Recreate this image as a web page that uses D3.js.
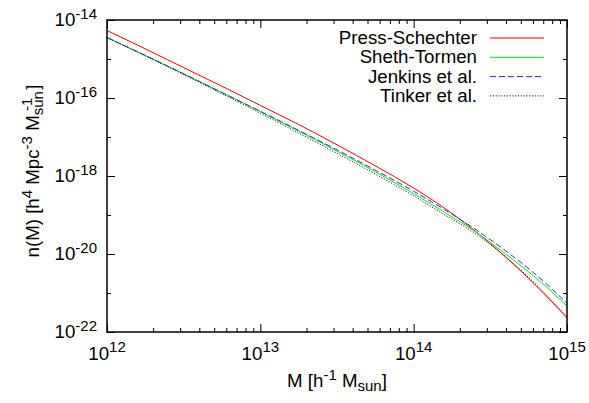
<!DOCTYPE html>
<html>
<head>
<meta charset="utf-8">
<script src="https://cdn.jsdelivr.net/npm/d3@7"></script>
<style>
  body { margin: 0; background: #fff; }
  svg { display: block; font-family: "Liberation Sans", Arial, sans-serif; }
</style>
</head>
<body>
<div id="chart"></div>
<script>
// mass function n(M) for four fits, values are log10
const logMass = [12, 12.25, 12.5, 12.75, 13, 13.25, 13.5, 13.75, 14, 14.2, 14.4, 14.6, 14.8, 15];
const pressSchechter = [-14.27, -14.74, -15.22, -15.70, -16.19, -16.68, -17.20, -17.74, -18.31, -18.82, -19.41, -20.08, -20.82, -21.64];
const shethTormen    = [-14.45, -14.91, -15.38, -15.86, -16.35, -16.85, -17.36, -17.89, -18.45, -18.93, -19.42, -20.00, -20.62, -21.33];
const jenkins        = [-14.45, -14.91, -15.38, -15.86, -16.34, -16.83, -17.33, -17.85, -18.39, -18.86, -19.36, -19.92, -20.54, -21.26];
const tinker         = [-14.45, -14.92, -15.40, -15.89, -16.39, -16.90, -17.42, -17.95, -18.51, -18.99, -19.47, -20.07, -20.79, -21.61];

const seriesNames = ["Press-Schechter", "Sheth-Tormen", "Jenkins et al.", "Tinker et al."];
const xTickExp = [12, 13, 14, 15];
const yTickExp = [-14, -16, -18, -20, -22];
const yMinorExp = [-15, -17, -19, -21];

const width = 589, height = 403;
const margin = { top: 20, right: 22, bottom: 71, left: 107 };

const svg = d3.select("#chart").append("svg")
  .attr("width", width).attr("height", height);

const x = d3.scaleLog().domain([1e12, 1e15]).range([margin.left, width - margin.right]);
const y = d3.scaleLog().domain([1e-22, 1e-14]).range([height - margin.bottom, margin.top]);

const xMajor = xTickExp.map(e => Math.pow(10, e));
const xMinor = [];
xTickExp.slice(0, -1).forEach(e => { for (let k = 2; k <= 9; k++) xMinor.push(k * Math.pow(10, e)); });
const yMajor = yTickExp.map(e => Math.pow(10, e));
const yMinor = yMinorExp.map(e => Math.pow(10, e));

// inward ticks on all four sides, long for major, short for minor
function ticks(axisFn, scale, values, size, transform) {
  svg.append("g")
    .attr("transform", transform)
    .call(axisFn(scale).tickValues(values).tickSize(-size).tickFormat(""))
    .call(g => g.select(".domain").remove())
    .call(g => g.selectAll("line").attr("stroke", "#000"));
}
const x0 = margin.left, x1 = width - margin.right, y0 = height - margin.bottom, y1 = margin.top;
ticks(d3.axisBottom, x, xMajor, 8, `translate(0,${y0})`);
ticks(d3.axisBottom, x, xMinor, 4, `translate(0,${y0})`);
ticks(d3.axisTop, x, xMajor, 8, `translate(0,${y1})`);
ticks(d3.axisTop, x, xMinor, 4, `translate(0,${y1})`);
ticks(d3.axisLeft, y, yMajor, 8, `translate(${x0},0)`);
ticks(d3.axisLeft, y, yMinor, 4, `translate(${x0},0)`);
ticks(d3.axisRight, y, yMajor, 8, `translate(${x1},0)`);
ticks(d3.axisRight, y, yMinor, 4, `translate(${x1},0)`);

// tick labels as 10^n
const fs = 18.7, fsSup = 15;
xTickExp.forEach(e => {
  const t = svg.append("text")
    .attr("x", x(Math.pow(10, e))).attr("y", 360)
    .attr("text-anchor", "middle").attr("font-size", fs);
  t.append("tspan").text("10");
  t.append("tspan").attr("dy", -8).attr("font-size", fsSup).text(e);
});
yTickExp.forEach(e => {
  const t = svg.append("text")
    .attr("x", 97).attr("y", y(Math.pow(10, e)) + 6)
    .attr("text-anchor", "end").attr("font-size", fs);
  t.append("tspan").text("10");
  t.append("tspan").attr("dy", -7).attr("font-size", fsSup).text("-" + Math.abs(e));
});

// axis titles
const xt = svg.append("text")
  .attr("x", (x0 + x1) / 2).attr("y", 387)
  .attr("text-anchor", "middle").attr("font-size", fs);
xt.append("tspan").text("M [h");
xt.append("tspan").attr("dy", -7).attr("font-size", fsSup).text("-1");
xt.append("tspan").attr("dy", 7).text(" M");
xt.append("tspan").attr("dy", 4).attr("font-size", fsSup).text("sun");
xt.append("tspan").attr("dy", -4).text("]");

const yt = svg.append("text")
  .attr("transform", `translate(39,${(y0 + y1) / 2 - 5}) rotate(-90)`)
  .attr("text-anchor", "middle").attr("font-size", fs);
yt.append("tspan").text("n(M) [h");
yt.append("tspan").attr("dy", -7).attr("font-size", fsSup).text("4");
yt.append("tspan").attr("dy", 7).text(" Mpc");
yt.append("tspan").attr("dy", -7).attr("font-size", fsSup).text("-3");
yt.append("tspan").attr("dy", 7).text(" M");
yt.append("tspan").attr("dy", 4).attr("font-size", fsSup).text("sun");
yt.append("tspan").attr("dx", -20).attr("dy", -11).attr("font-size", fsSup).text("-1");
yt.append("tspan").attr("dx", 8).attr("dy", 7).text("]");

// curves
const series = [
  { name: seriesNames[0], values: pressSchechter, color: "#ff0000", dash: null },
  { name: seriesNames[1], values: shethTormen, color: "#00ee00", dash: null },
  { name: seriesNames[2], values: jenkins, color: "#2233ff", dash: "6,3" },
  { name: seriesNames[3], values: tinker, color: "#222", dash: "1.2,1.6" },
];

svg.append("clipPath").attr("id", "plot")
  .append("rect").attr("x", x0).attr("y", y1).attr("width", x1 - x0).attr("height", y0 - y1);

const line = d3.line()
  .x((d, i) => x(Math.pow(10, logMass[i])))
  .y(d => y(Math.pow(10, d)))
  .curve(d3.curveMonotoneX);

svg.append("g").attr("clip-path", "url(#plot)")
  .selectAll("path").data(series).join("path")
  .attr("d", d => line(d.values))
  .attr("fill", "none")
  .attr("stroke", d => d.color)
  .attr("stroke-width", 1)
  .attr("stroke-dasharray", d => d.dash);

// legend, top right
const leg = svg.append("g");
series.forEach((s, i) => {
  const cy = 38 + i * 19.3;
  leg.append("text")
    .attr("x", 477).attr("y", cy + 6)
    .attr("text-anchor", "end").attr("font-size", fs)
    .text(s.name);
  leg.append("line")
    .attr("x1", 490).attr("x2", 544).attr("y1", cy).attr("y2", cy)
    .attr("stroke", s.color).attr("stroke-width", 1)
    .attr("stroke-dasharray", s.dash);
});

// border
svg.append("rect")
  .attr("x", x0).attr("y", y1).attr("width", x1 - x0).attr("height", y0 - y1)
  .attr("fill", "none").attr("stroke", "#000").attr("stroke-width", 1.5);
</script>
</body>
</html>
